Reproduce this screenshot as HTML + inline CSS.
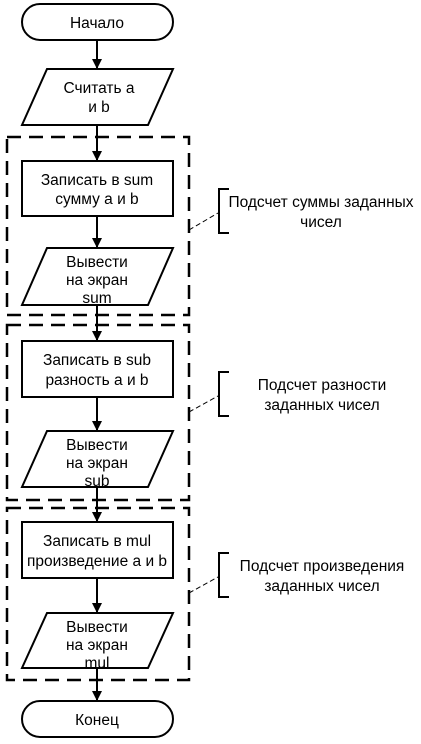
<!DOCTYPE html><html><head><meta charset="utf-8"><style>body{margin:0;background:#fff}svg{display:block}text{font-family:"Liberation Sans",sans-serif;font-size:15.5px;fill:#000}</style></head><body>
<svg width="421" height="744" viewBox="0 0 421 744" xmlns="http://www.w3.org/2000/svg">
<defs><marker id="a" markerWidth="10" markerHeight="10" refX="9" refY="5" orient="auto" markerUnits="userSpaceOnUse"><path d="M0,0 L10,5 L0,10 z" fill="#000"/></marker></defs>
<g stroke="#000" stroke-width="2" fill="none">
<rect x="22" y="4" width="151" height="36" rx="18"/>
<path d="M47,69 H173 L148,125 H22 Z"/>
<rect x="22" y="161" width="151" height="55"/>
<path d="M47,248 H173 L148,305 H22 Z"/>
<rect x="22" y="341" width="151" height="56"/>
<path d="M47,431 H173 L148,487 H22 Z"/>
<rect x="22" y="522" width="151" height="56"/>
<path d="M47,613 H173 L148,668 H22 Z"/>
<rect x="22" y="701" width="151" height="36" rx="18"/>
<line x1="97" y1="40" x2="97" y2="68" marker-end="url(#a)"/>
<line x1="97" y1="125" x2="97" y2="160" marker-end="url(#a)"/>
<line x1="97" y1="216" x2="97" y2="247" marker-end="url(#a)"/>
<line x1="97" y1="305" x2="97" y2="340" marker-end="url(#a)"/>
<line x1="97" y1="397" x2="97" y2="430" marker-end="url(#a)"/>
<line x1="97" y1="487" x2="97" y2="521" marker-end="url(#a)"/>
<line x1="97" y1="578" x2="97" y2="612" marker-end="url(#a)"/>
<line x1="97" y1="668" x2="97" y2="700" marker-end="url(#a)"/>
<g stroke-width="2.5" stroke-dasharray="14,8">
<rect x="7" y="137" width="182" height="178"/>
<rect x="7" y="325" width="182" height="175"/>
<rect x="7" y="508" width="182" height="172"/>
</g>
<path d="M229,189 H219 V233 H229"/>
<path d="M229,372 H219 V416 H229"/>
<path d="M229,553 H219 V597 H229"/>
<g stroke-width="1" stroke-dasharray="5,3">
<line x1="189" y1="230" x2="218" y2="213"/>
<line x1="189" y1="412" x2="218" y2="396"/>
<line x1="189" y1="593" x2="218" y2="577"/>
</g>
</g>
<g text-anchor="middle">
<text x="97" y="28">Начало</text>
<text x="99" y="93">Считать a</text><text x="99" y="112">и b</text>
<text x="97" y="185">Записать в sum</text><text x="97" y="204">сумму a и b</text>
<text x="97" y="267">Вывести</text><text x="97" y="285">на экран</text><text x="97" y="303">sum</text>
<text x="97" y="365">Записать в sub</text><text x="97" y="385">разность a и b</text>
<text x="97" y="450">Вывести</text><text x="97" y="468">на экран</text><text x="97" y="486">sub</text>
<text x="97" y="546">Записать в mul</text><text x="97" y="566">произведение a и b</text>
<text x="97" y="632">Вывести</text><text x="97" y="650">на экран</text><text x="97" y="668">mul</text>
<text x="97" y="725">Конец</text>
<text x="321" y="207">Подсчет суммы заданных</text><text x="321" y="227">чисел</text>
<text x="322" y="390">Подсчет разности</text><text x="322" y="410">заданных чисел</text>
<text x="322" y="571">Подсчет произведения</text><text x="322" y="591">заданных чисел</text>
</g>
</svg></body></html>
